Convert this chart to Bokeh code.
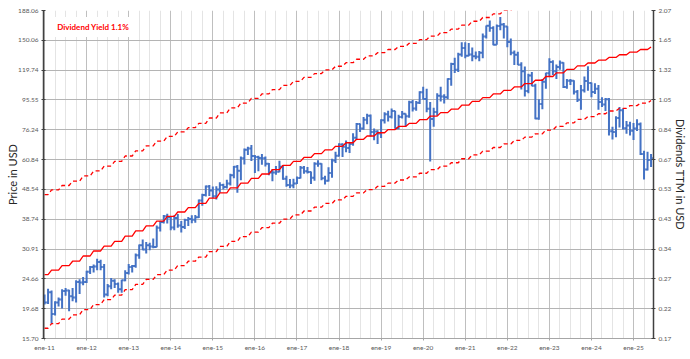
import numpy as np
from bokeh.plotting import figure
from bokeh.models import (Range1d, LogScale, LogAxis, FixedTicker, Label,
                          ColumnDataSource, NumeralTickFormatter)
from bokeh.embed import file_html
from bokeh.resources import INLINE

# ---------------- data (monthly, Jan 2011 .. Jun 2025) ----------------
opens = [
    21.5, 20.6, 22.3, 18.9, 20.6, 21.1, 22.5, 22.6, 21.6, 21.4, 24.1, 24.0,
    24.1, 26.0, 27.0, 27.1, 28.0, 27.0, 21.9, 23.3, 24.3, 23.7, 22.8, 24.4,
    25.8, 27.0, 27.2, 29.5, 31.8, 30.8, 31.8, 31.5, 31.4, 36.3, 37.9, 39.6,
    39.3, 36.4, 39.1, 36.9, 36.5, 38.5, 38.8, 38.6, 39.3, 44.6, 46.5, 49.6,
    48.1, 46.1, 48.5, 50.2, 49.4, 50.8, 54.0, 57.6, 55.9, 61.5, 65.5, 66.1,
    62.5, 62.0, 61.6, 61.5, 58.9, 55.2, 55.2, 55.5, 57.6, 52.6, 50.2, 50.0,
    50.8, 52.9, 57.2, 55.7, 55.4, 53.0, 59.0, 59.0, 52.8, 51.8, 55.0, 60.4,
    62.6, 68.2, 67.0, 66.4, 68.4, 71.8, 79.7, 76.9, 82.2, 84.7, 75.0, 75.2,
    74.1, 81.9, 85.8, 84.2, 87.8, 77.1, 83.9, 86.0, 84.5, 93.9, 89.5, 93.5,
    101.3, 96.3, 89.4, 82.7, 87.2, 98.6, 98.0, 97.6, 111.9, 125.5, 120.1, 134.7,
    141.5, 133.6, 134.8, 132.9, 132.6, 136.5, 154.5, 167.5, 164.7, 145.2, 167.3, 169.2,
    166.7, 148.1, 136.6, 134.6, 124.7, 118.8, 102.2, 114.9, 106.4, 83.1, 92.7, 109.6,
    117.0, 127.3, 118.8, 122.6, 126.7, 105.3, 110.4, 110.4, 101.7, 95.6, 102.8, 110.3,
    108.6, 101.5, 103.9, 94.0, 92.3, 96.1, 75.4, 74.9, 83.3, 88.4, 77.1, 78.8,
    75.7, 77.0, 79.5, 63.5, 56.4, 60.6,
]
highs = [
    21.9, 22.9, 22.6, 20.8, 21.4, 22.8, 23.0, 22.7, 23.0, 24.4, 24.6, 25.0,
    26.2, 27.2, 27.5, 28.7, 28.5, 27.6, 23.7, 24.8, 24.6, 24.0, 24.5, 26.3,
    27.6, 27.4, 29.9, 32.0, 33.2, 32.6, 32.4, 33.5, 36.9, 38.2, 40.0, 40.4,
    39.6, 39.9, 40.3, 38.2, 38.9, 39.4, 39.9, 40.0, 45.0, 47.0, 50.0, 50.2,
    49.6, 49.7, 51.2, 50.7, 52.2, 54.6, 58.0, 58.4, 62.3, 66.2, 67.0, 67.9,
    63.0, 62.6, 63.5, 62.3, 59.3, 56.6, 58.0, 60.3, 58.4, 53.8, 52.5, 52.6,
    53.5, 58.0, 57.9, 57.5, 55.6, 59.6, 60.5, 59.2, 53.8, 57.4, 61.2, 64.5,
    68.9, 68.9, 70.3, 69.4, 74.3, 80.3, 80.0, 83.9, 86.0, 85.6, 77.0, 76.0,
    82.5, 87.1, 88.1, 89.5, 88.0, 85.4, 87.8, 86.2, 94.9, 95.5, 94.7, 102.0,
    105.6, 104.0, 94.0, 90.0, 100.6, 105.6, 99.8, 112.5, 126.6, 131.6, 136.6, 147.9,
    147.9, 147.0, 142.0, 138.0, 138.5, 158.0, 168.0, 174.4, 167.0, 169.0, 179.1, 171.0,
    167.0, 152.0, 139.0, 137.5, 127.0, 123.0, 116.5, 118.0, 108.0, 96.0, 112.0, 117.5,
    131.0, 129.0, 125.0, 128.7, 127.0, 112.0, 112.0, 111.0, 103.0, 107.0, 114.0, 123.4,
    109.0, 108.5, 107.0, 97.5, 97.0, 97.0, 78.0, 84.5, 90.6, 89.5, 81.5, 81.0,
    80.2, 82.5, 80.5, 65.0, 64.5, 63.5,
]
lows = [
    20.3, 20.4, 17.6, 18.7, 20.0, 19.7, 21.7, 19.3, 20.8, 20.6, 22.0, 23.5,
    23.9, 25.6, 25.9, 26.3, 26.3, 21.4, 21.6, 22.8, 23.0, 22.2, 22.2, 24.2,
    25.5, 25.9, 26.8, 28.7, 30.6, 29.9, 30.6, 31.1, 31.3, 35.3, 37.5, 37.5,
    35.6, 35.6, 36.3, 35.0, 36.0, 36.8, 37.6, 37.7, 39.1, 42.9, 46.0, 46.2,
    45.4, 45.0, 47.3, 48.5, 48.9, 50.0, 52.8, 47.3, 52.0, 58.6, 63.0, 60.2,
    55.0, 55.7, 58.5, 57.7, 54.0, 51.6, 54.2, 55.3, 52.2, 49.5, 49.0, 49.0,
    50.6, 52.7, 54.6, 54.7, 50.6, 51.8, 57.6, 52.0, 50.4, 51.5, 53.0, 59.3,
    62.3, 62.0, 64.3, 63.9, 67.5, 70.6, 75.0, 76.2, 79.5, 72.5, 70.4, 68.5,
    71.6, 80.0, 81.1, 83.0, 76.8, 76.6, 83.0, 78.2, 83.5, 87.6, 88.0, 92.6,
    95.9, 87.1, 60.0, 78.0, 84.7, 94.4, 93.0, 96.0, 106.4, 117.2, 118.0, 132.5,
    131.0, 133.0, 128.0, 130.0, 128.0, 131.0, 152.0, 160.0, 144.5, 145.0, 162.0, 152.0,
    142.5, 134.0, 124.5, 124.5, 103.5, 98.0, 100.5, 106.0, 82.5, 82.2, 89.0, 104.0,
    114.0, 115.5, 112.0, 120.0, 104.5, 104.0, 107.0, 99.5, 94.0, 88.7, 101.0, 102.5,
    97.5, 100.0, 88.7, 90.5, 87.9, 73.0, 70.8, 72.0, 77.5, 76.4, 74.0, 73.0,
    70.5, 75.5, 63.0, 52.3, 56.0, 57.5,
]
closes = [
    20.6, 22.3, 18.9, 20.6, 21.1, 22.5, 22.6, 21.6, 21.4, 24.1, 24.0, 24.1,
    26.0, 27.0, 27.1, 28.0, 27.0, 21.9, 23.3, 24.3, 23.7, 22.8, 24.4, 25.8,
    27.0, 27.2, 29.5, 31.8, 30.8, 31.8, 31.5, 31.4, 36.3, 37.9, 39.6, 39.3,
    36.4, 39.1, 36.9, 36.5, 38.5, 38.8, 38.6, 39.3, 44.6, 46.5, 49.6, 48.1,
    46.1, 48.5, 50.2, 49.4, 50.8, 54.0, 57.6, 55.9, 61.5, 65.5, 66.1, 62.5,
    62.0, 61.6, 61.5, 58.9, 55.2, 55.2, 55.5, 57.6, 52.6, 50.2, 50.0, 50.8,
    52.9, 57.2, 55.7, 55.4, 53.0, 59.0, 59.0, 52.8, 51.8, 55.0, 60.4, 62.6,
    68.2, 67.0, 66.4, 68.4, 71.8, 79.7, 76.9, 82.2, 84.7, 75.0, 75.2, 74.1,
    81.9, 85.8, 84.2, 87.8, 77.1, 83.9, 86.0, 84.5, 93.9, 89.5, 93.5, 101.3,
    96.3, 89.4, 82.7, 87.2, 98.6, 98.0, 97.6, 111.9, 125.5, 120.1, 134.7, 141.5,
    133.6, 134.8, 132.9, 132.6, 136.5, 154.5, 167.5, 164.7, 145.2, 167.3, 169.2, 166.7,
    148.1, 136.6, 134.6, 124.7, 118.8, 102.2, 114.9, 106.4, 83.1, 92.7, 109.6, 117.0,
    127.3, 118.8, 122.6, 126.7, 105.3, 110.4, 110.4, 101.7, 95.6, 102.8, 110.3, 108.6,
    101.5, 103.9, 94.0, 92.3, 96.1, 75.4, 74.9, 83.3, 88.4, 77.1, 78.8, 75.7,
    77.0, 79.5, 63.5, 56.4, 60.6, 61.5,
]

# quarterly dividends per share (ex-dividend month, split adjusted USD)
div_months = [
    "2010-03", "2010-06", "2010-09", "2010-12",
    "2011-03", "2011-06", "2011-09", "2011-12",
    "2012-03", "2012-06", "2012-09", "2012-12",
    "2013-03", "2013-06", "2013-09", "2013-12",
    "2014-03", "2014-06", "2014-09", "2014-12",
    "2015-03", "2015-06", "2015-09", "2015-12",
    "2016-03", "2016-06", "2016-09", "2016-12",
    "2017-03", "2017-06", "2017-09", "2017-12",
    "2018-03", "2018-06", "2018-09", "2018-12",
    "2019-03", "2019-06", "2019-09", "2019-12",
    "2020-03", "2020-06", "2020-09", "2020-12",
    "2021-03", "2021-06", "2021-09", "2021-12",
    "2022-03", "2022-06", "2022-09", "2022-12",
    "2023-03", "2023-06", "2023-09", "2023-12",
    "2024-03", "2024-06", "2024-09", "2024-12",
    "2025-03", "2025-06",
]
div_amounts = [
    0.0675, 0.0675, 0.0675, 0.0775,
    0.0775, 0.0775, 0.0775, 0.09,
    0.09, 0.09, 0.09, 0.105,
    0.105, 0.105, 0.105, 0.12,
    0.12, 0.12, 0.12, 0.14,
    0.14, 0.14, 0.14, 0.16,
    0.16, 0.16, 0.16, 0.18,
    0.18, 0.18, 0.18, 0.20,
    0.20, 0.20, 0.20, 0.22,
    0.22, 0.22, 0.22, 0.245,
    0.245, 0.245, 0.245, 0.275,
    0.275, 0.275, 0.275, 0.305,
    0.305, 0.305, 0.305, 0.34,
    0.34, 0.34, 0.34, 0.37,
    0.37, 0.37, 0.37, 0.40,
    0.40, 0.40,
]

# yield lines: main (1.1%) and the two bands
main_yield = 0.011
band_yields = [0.006, 0.0165]

y_ticks = [15.70, 19.68, 24.66, 30.91, 38.74, 48.54, 60.84, 76.24, 95.55, 119.74, 150.06, 188.06]
y_labels = ["15.70", "19.68", "24.66", "30.91", "38.74", "48.54", "60.84", "76.24", "95.55", "119.74", "150.06", "188.06"]
div_labels = ["0.17", "0.22", "0.27", "0.34", "0.43", "0.53", "0.67", "0.84", "1.05", "1.32", "1.65", "2.07"]
x_labels = ["ene-11", "ene-12", "ene-13", "ene-14", "ene-15", "ene-16", "ene-17", "ene-18",
            "ene-19", "ene-20", "ene-21", "ene-22", "ene-23", "ene-24", "ene-25"]

# ---------------- derived ----------------
n = len(closes)
x = np.arange(n)
div_idx = [(int(s[:4]) - 2011) * 12 + int(s[5:]) - 1 for s in div_months]
ttm = np.array([sum(a for i, a in zip(div_idx, div_amounts) if m - 11 <= i <= m) for m in range(n)])

FONT = "Lato"
BLUE = "#4472C4"
RED = "#FF0000"

p = figure(width=690, height=359, x_range=Range1d(-0.3, 173.7),
           y_range=Range1d(y_ticks[0], y_ticks[-1]), y_axis_type="log",
           output_backend="svg", toolbar_location=None,
           min_border_left=43, min_border_right=37, min_border_top=10, min_border_bottom=21)
p.outline_line_color = None
p.background_fill_color = "white"
p.border_fill_color = "white"

p.extra_y_ranges = {"div": Range1d(y_ticks[0] * main_yield, y_ticks[-1] * main_yield)}
p.extra_y_scales = {"div": LogScale()}

# grids
year_ticks = [12 * i for i in range(len(x_labels))]
quarter_ticks = [t for t in range(0, 174, 3) if t % 12 != 0]
p.xgrid.ticker = FixedTicker(ticks=year_ticks, minor_ticks=quarter_ticks)
p.xgrid.grid_line_color = "#BFBFBF"
p.xgrid.minor_grid_line_color = "#E4E4E4"
p.ygrid.ticker = FixedTicker(ticks=y_ticks)
p.ygrid.grid_line_color = "#B4B4B4"

# axes
xa = p.xaxis[0]
xa.ticker = FixedTicker(ticks=year_ticks)
xa.major_label_overrides = {t: l for t, l in zip(year_ticks, x_labels)}
xa.axis_line_color = "#A6A6A6"
xa.major_tick_line_color = "#A6A6A6"
xa.major_tick_in = 0
xa.major_tick_out = 2
xa.minor_tick_line_color = None
xa.major_label_text_font = FONT
xa.major_label_text_font_size = "6.5px"
xa.major_label_text_color = "#595959"
xa.major_label_standoff = 3

ya = p.yaxis[0]
ya.ticker = FixedTicker(ticks=y_ticks)
ya.formatter = NumeralTickFormatter(format="0.00")
ya.major_label_overrides = {t: l for t, l in zip(y_ticks, y_labels)}
ya.axis_line_color = "#404040"
ya.axis_line_width = 1.5
ya.major_tick_line_color = "#404040"
ya.major_tick_in = 2
ya.major_tick_out = 2
ya.minor_tick_line_color = None
ya.major_label_text_font = FONT
ya.major_label_text_font_size = "6.5px"
ya.major_label_text_color = "#595959"
ya.major_label_standoff = 3
ya.axis_label = "Price in USD"
ya.axis_label_text_font = FONT
ya.axis_label_text_font_size = "11px"
ya.axis_label_text_font_style = "normal"
ya.axis_label_text_color = "#262626"
ya.axis_label_standoff = -4

div_ticks = [v * main_yield for v in y_ticks]
ra = LogAxis(y_range_name="div", ticker=FixedTicker(ticks=div_ticks),
             formatter=NumeralTickFormatter(format="0.00"))
ra.major_label_overrides = {t: l for t, l in zip(div_ticks, div_labels)}
ra.axis_line_color = "#404040"
ra.axis_line_width = 1.5
ra.major_tick_line_color = "#404040"
ra.major_tick_in = 2
ra.major_tick_out = 2
ra.minor_tick_line_color = None
ra.major_label_text_font = FONT
ra.major_label_text_font_size = "6.5px"
ra.major_label_text_color = "#595959"
ra.major_label_standoff = 3
ra.axis_label = "Dividends TTM in USD"
ra.axis_label_text_font = FONT
ra.axis_label_text_font_size = "11px"
ra.axis_label_text_font_style = "normal"
ra.axis_label_text_color = "#262626"
ra.axis_label_standoff = 0
p.add_layout(ra, "right")

# OHLC bars
src = ColumnDataSource(dict(x=x, xl=x - 0.5, xr=x + 0.5, o=opens, h=highs, l=lows, c=closes))
p.segment(x0="x", y0="l", x1="x", y1="h", source=src, line_color=BLUE, line_width=2)
p.segment(x0="xl", y0="o", x1="x", y1="o", source=src, line_color=BLUE, line_width=2)
p.segment(x0="x", y0="c", x1="xr", y1="c", source=src, line_color=BLUE, line_width=2)

# dividend yield lines
for by in band_yields:
    p.line(x, ttm / by, line_color=RED, line_width=1.3, line_dash="4 3")
p.line(x, ttm / main_yield, line_color=RED, line_width=1.3)

# legend box
p.add_layout(Label(x=2.2, y=166.0, text="Dividend Yield 1.1%", text_align="left",
                   text_baseline="middle", text_font=FONT, text_font_style="bold",
                   text_font_size="8px", text_color=RED,
                   background_fill_color="white", padding=5))

open("out.html", "w").write(file_html(p, INLINE))
